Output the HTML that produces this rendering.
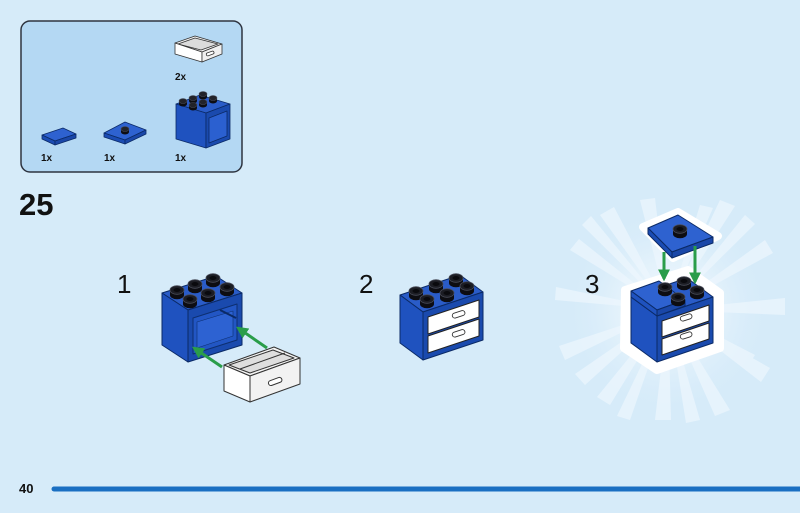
<!DOCTYPE html>
<html><head><meta charset="utf-8"><style>
html,body{margin:0;padding:0;background:#d6ebf9;}
svg{display:block;font-family:"Liberation Sans",sans-serif;}
</style></head><body>
<svg width="800" height="513" viewBox="0 0 800 513" xmlns="http://www.w3.org/2000/svg">
<defs>
<g id="stud">
<ellipse cx="0" cy="0" rx="7" ry="4.3" fill="#0d0d12"/>
<rect x="-7" y="-5" width="14" height="5" fill="#0d0d12"/>
<ellipse cx="0" cy="-5" rx="7" ry="4.3" fill="#1c1d24" stroke="#4a4d5a" stroke-width="0.8"/>
<ellipse cx="0" cy="-5" rx="3.5" ry="2" fill="#0a0a0e"/>
</g>
<g id="sstud">
<ellipse cx="0" cy="0" rx="4" ry="2.5" fill="#0d0d12"/>
<rect x="-4" y="-3" width="8" height="3" fill="#0d0d12"/>
<ellipse cx="0" cy="-3" rx="4" ry="2.5" fill="#22232a" stroke="#4a4d5a" stroke-width="0.6"/>
</g>
<radialGradient id="glow" cx="50%" cy="50%" r="50%">
<stop offset="0" stop-color="#ffffff" stop-opacity="0.8"/>
<stop offset="0.5" stop-color="#eef7fd" stop-opacity="0.5"/>
<stop offset="1" stop-color="#d6ebf9" stop-opacity="0"/>
</radialGradient>
<marker id="ah" viewBox="0 0 10 10" refX="8" refY="5" markerWidth="4" markerHeight="4" orient="auto">
<path d="M0,0 L10,5 L0,10 z" fill="#2a9d4a"/>
</marker>
</defs>

<rect x="21" y="21" width="221" height="151" rx="9" fill="#b4d8f3" stroke="#2e3440" stroke-width="1.5"/>
<g stroke="#333" stroke-width="0.8" stroke-linejoin="round">
<polygon points="175,43 195,36 222,44 202,52" fill="#f4f4f4"/>
<polygon points="178,44 195,38 218,44 201,50" fill="#dcdcdc"/>
<polygon points="175,43 202,52 202,62 175,54" fill="#ffffff"/>
<polygon points="202,52 222,44 222,54 202,62" fill="#f0f0f0"/>
<rect x="206" y="52" width="8" height="3" rx="1.5" fill="#fff" transform="rotate(-20 210 53)"/>
</g>
<text x="175" y="80" font-size="10" font-weight="bold" fill="#111">2x</text>
<g stroke="#0b2a66" stroke-width="0.8" stroke-linejoin="round">
<polygon points="176,104 200,95 230,104 206,113" fill="#2a5cc8"/>
<polygon points="176,104 206,113 206,148 176,139" fill="#1f52bf"/>
<polygon points="206,113 230,104 230,139 206,148" fill="#1a4aae"/>
<polygon points="209,118 227,111 227,136 209,143" fill="#2b60d0"/>
</g>
<use href="#sstud" x="183" y="104"/><use href="#sstud" x="193" y="101"/><use href="#sstud" x="203" y="97"/>
<use href="#sstud" x="193" y="108"/><use href="#sstud" x="203" y="105"/><use href="#sstud" x="213" y="101"/>
<text x="175" y="161" font-size="10" font-weight="bold" fill="#111">1x</text>
<g stroke="#0b2a66" stroke-width="0.8" stroke-linejoin="round">
<polygon points="42,135 63,128 76,134 55,141" fill="#2e62d0"/>
<polygon points="42,135 55,141 55,145 42,139" fill="#1b4cb3"/>
<polygon points="55,141 76,134 76,138 55,145" fill="#1a47a8"/>
</g>
<text x="41" y="161" font-size="10" font-weight="bold" fill="#111">1x</text>
<g stroke="#0b2a66" stroke-width="0.8" stroke-linejoin="round">
<polygon points="104,133 125,122 146,130 125,140" fill="#2e62d0"/>
<polygon points="104,133 125,140 125,144 104,137" fill="#1b4cb3"/>
<polygon points="125,140 146,130 146,134 125,144" fill="#1a47a8"/>
</g>
<use href="#sstud" x="125" y="132"/>
<text x="104" y="161" font-size="10" font-weight="bold" fill="#111">1x</text>

<text x="19" y="215" font-size="31" font-weight="bold" fill="#111">25</text>
<text x="117" y="293" font-size="26" fill="#111">1</text>
<text x="359" y="293" font-size="26" fill="#111">2</text>

<g stroke="#0b2a66" stroke-width="1" stroke-linejoin="round">
<polygon points="188,310 162,293 216,276 242,293" fill="#2a5cc8"/>
<polygon points="162,293 188,310 188,362 162,345" fill="#1f52bf"/>
<polygon points="188,310 242,293 242,345 188,362" fill="#1a4aae"/>
<polygon points="193,318 237,304 237,340 193,354" fill="#2256c4" stroke="#0d2f70"/>
<polygon points="197,322 233,311 233,336 197,348" fill="#2d62d2" stroke="#0d2f70" stroke-width="0.6"/>
</g>
<line x1="220" y1="310" x2="236" y2="318" stroke="#0b2a66" stroke-width="2"/>
<use href="#stud" x="177" y="295"/><use href="#stud" x="195" y="289"/><use href="#stud" x="213" y="283"/>
<use href="#stud" x="190" y="304"/><use href="#stud" x="208" y="298"/><use href="#stud" x="227" y="292"/>
<line x1="222" y1="367" x2="194" y2="348" stroke="#2a9d4a" stroke-width="3" marker-end="url(#ah)"/>
<line x1="267" y1="348" x2="238" y2="328" stroke="#2a9d4a" stroke-width="3" marker-end="url(#ah)"/>
<g stroke="#333" stroke-width="1" stroke-linejoin="round">
<polygon points="224,365 274,347 300,358 250,376" fill="#f4f4f4"/>
<polygon points="229,365 273,350 294,358 250,373" fill="#dedede"/>
<line x1="240" y1="369" x2="285" y2="353"/>
<polygon points="224,365 250,376 250,402 224,391" fill="#ffffff"/>
<polygon points="250,376 300,358 300,384 250,402" fill="#f2f2f2"/>
<rect x="268" y="379" width="14" height="5" rx="2.5" fill="#fff" transform="rotate(-20 275 381)"/>
</g>

<g stroke="#0b2a66" stroke-width="1" stroke-linejoin="round">
<polygon points="423,312 400,295 460,275 483,292" fill="#2a5cc8"/>
<polygon points="400,295 423,312 423,360 400,343" fill="#1f52bf"/>
<polygon points="423,312 483,292 483,340 423,360" fill="#1a4aae"/>
<polygon points="428,317 479,300 479,317 428,334" fill="#ffffff" stroke="#222"/>
<polygon points="428,336 479,319 479,336 428,353" fill="#ffffff" stroke="#222"/>
</g>
<g fill="#fff" stroke="#333" stroke-width="0.9">
<rect x="452" y="312" width="13" height="5" rx="2.5" transform="rotate(-18 458 314)"/>
<rect x="452" y="331" width="13" height="5" rx="2.5" transform="rotate(-18 458 333)"/>
</g>
<use href="#stud" x="416" y="296"/><use href="#stud" x="436" y="289"/><use href="#stud" x="456" y="283"/>
<use href="#stud" x="427" y="304"/><use href="#stud" x="447" y="298"/><use href="#stud" x="467" y="291"/>

<g>
<circle cx="668" cy="310" r="105" fill="url(#glow)"/>
<g fill="#eef7fe" opacity="0.7">
<polygon points="668,310 600,215 614,207"/>
<polygon points="668,310 640,200 655,198"/>
<polygon points="668,310 720,200 735,206"/>
<polygon points="668,310 765,240 773,253"/>
<polygon points="668,310 785,298 785,315"/>
<polygon points="668,310 770,368 761,382"/>
<polygon points="668,310 730,410 715,416"/>
<polygon points="668,310 671,420 655,420"/>
<polygon points="668,310 610,405 597,397"/>
<polygon points="668,310 565,360 559,346"/>
<polygon points="668,310 555,300 556,287"/>
<polygon points="668,310 570,250 579,239"/>
<polygon points="668,310 700,205 713,208"/>
<polygon points="668,310 755,355 747,367"/>
<polygon points="668,310 585,385 575,374"/>
<polygon points="668,310 745,215 755,224"/>
<polygon points="668,310 582,225 591,216"/>
<polygon points="668,310 700,420 686,423"/>
<polygon points="668,310 630,420 617,416"/>
</g>
</g>
<text x="585" y="293" font-size="26" fill="#111">3</text>
<polygon points="625,290 688,270 720,293 720,348 657,370 624,348" fill="#ffffff" stroke="#ffffff" stroke-width="8" stroke-linejoin="round"/>
<polygon points="643,227 678,212 718,236 673,258" fill="#fff" stroke="#fff" stroke-width="8" stroke-linejoin="round"/>
<g stroke="#0b2a66" stroke-width="1" stroke-linejoin="round">
<polygon points="657,316 631,297 687,278 713,297" fill="#2a5cc8"/>
<polygon points="631,297 657,316 657,362 631,343" fill="#1f52bf"/>
<polygon points="657,316 713,297 713,343 657,362" fill="#1a4aae"/>
<polygon points="662,321 709,305 709,321 662,337" fill="#ffffff" stroke="#222"/>
<polygon points="662,339 709,323 709,339 662,355" fill="#ffffff" stroke="#222"/>
<polygon points="657,310 631,291 659,281 685,300" fill="#2e62d0"/>
<polygon points="631,291 657,310 657,316 631,297" fill="#1f52bf"/>
<polygon points="657,310 685,300 685,306 657,316" fill="#1a47a8"/>
</g>
<g fill="#fff" stroke="#333" stroke-width="0.9">
<rect x="680" y="315" width="12" height="5" rx="2.5" transform="rotate(-18 686 317)"/>
<rect x="680" y="333" width="12" height="5" rx="2.5" transform="rotate(-18 686 335)"/>
</g>
<use href="#stud" x="665" y="292"/><use href="#stud" x="684" y="286"/>
<use href="#stud" x="678" y="302"/><use href="#stud" x="697" y="295"/>
<g stroke="#0b2a66" stroke-width="1" stroke-linejoin="round">
<polygon points="648,228 678,215 713,237 672,252" fill="#2e62d0"/>
<polygon points="648,228 672,252 672,258 648,234" fill="#1b4cb3"/>
<polygon points="672,252 713,237 713,243 672,258" fill="#1a47a8"/>
</g>
<use href="#stud" x="680" y="234"/>
<line x1="664" y1="252" x2="664" y2="279" stroke="#2a9d4a" stroke-width="3" marker-end="url(#ah)"/>
<line x1="695" y1="246" x2="695" y2="282" stroke="#2a9d4a" stroke-width="3" marker-end="url(#ah)"/>

<text x="19" y="493" font-size="13" font-weight="bold" fill="#111">40</text>
<line x1="54" y1="489" x2="800" y2="489" stroke="#1a6fc2" stroke-width="5" stroke-linecap="round"/>
</svg>
</body></html>
